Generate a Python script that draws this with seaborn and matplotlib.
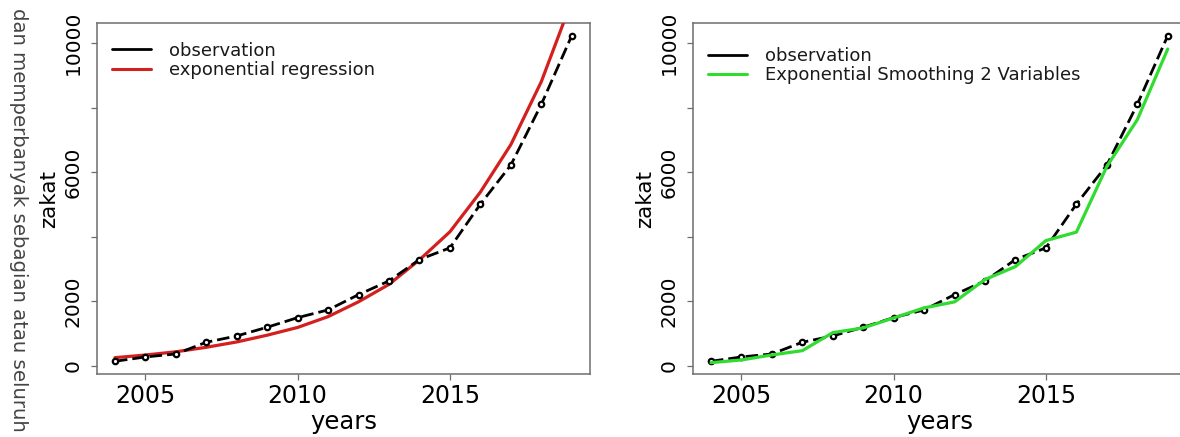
import matplotlib
matplotlib.use("Agg")
import matplotlib.pyplot as plt
from matplotlib.lines import Line2D
import seaborn as sns
import pandas as pd

# ---- data ----
years = [2004, 2005, 2006, 2007, 2008, 2009, 2010, 2011,
         2012, 2013, 2014, 2015, 2016, 2017, 2018, 2019]
observation = [136, 270, 363, 726, 921, 1191, 1489, 1728,
               2202, 2627, 3290, 3651, 5006, 6216, 8096, 10226]
exp_regression = [248, 330, 430, 570, 735, 945, 1185, 1520,
                  1980, 2520, 3280, 4150, 5380, 6850, 8800, 11300]
exp_smoothing = [93, 177, 332, 465, 1024, 1170, 1480, 1791,
                 1977, 2671, 3071, 3877, 4138, 6173, 7621, 9813]
xticks = [2005, 2010, 2015]
yticks = [0, 2000, 4000, 6000, 8000, 10000]
ytick_labels = ["0", "2000", "", "6000", "", "10000"]

sns.set_theme(style="white")
plt.rcParams["font.family"] = ["DejaVu Sans"]

W, H = 1180, 437
fig = plt.figure(figsize=(W / 100, H / 100), dpi=100)
fig.patch.set_facecolor("white")

ax_w = 493.3 / W
ax_b = (H - 374.3) / H
ax_h = 351.6 / H
ax1 = fig.add_axes([96.7 / W, ax_b, ax_w, ax_h])
ax2 = fig.add_axes([692.7 / W, ax_b, ax_w, ax_h])

df = pd.DataFrame({"years": years, "observation": observation,
                   "regression": exp_regression, "smoothing": exp_smoothing})

RED = "#d41f1f"
GREEN = "#30dc30"
SPINE = "#6e6e6e"


def draw_obs(ax):
    sns.lineplot(data=df, x="years", y="observation", ax=ax, color="black",
                 linewidth=2.0, marker="o", markersize=3.9,
                 markerfacecolor="white", markeredgecolor="black",
                 markeredgewidth=1.6, zorder=4)
    ax.lines[-1].set_linestyle((0, (4.5, 1.8)))


def style(ax, fit_color, fit_label, leg_xy):
    lo, hi = min(observation), max(observation)
    r = hi - lo
    ax.set_ylim(lo - 0.04 * r, hi + 0.04 * r)
    xr = years[-1] - years[0]
    ax.set_xlim(years[0] - 0.04 * xr, years[-1] + 0.04 * xr)
    ax.set_xticks(xticks)
    ax.set_xticklabels([str(t) for t in xticks], fontsize=17, color="black")
    ax.set_yticks(yticks)
    ax.set_yticklabels(ytick_labels, rotation=90, va="center",
                       fontsize=14.5, color="black")
    ax.tick_params(axis="both", direction="out", length=4.3, width=0.9,
                   color=SPINE, bottom=True, left=True)
    ax.tick_params(axis="x", pad=3)
    ax.tick_params(axis="y", pad=6)
    for s in ax.spines.values():
        s.set_visible(True)
        s.set_color(SPINE)
        s.set_linewidth(1.1)
    ax.set_xlabel("years", fontsize=17.5, color="black", labelpad=1)
    ax.set_ylabel("zakat", fontsize=15.5, color="black", labelpad=3)
    ax.grid(False)
    handles = [Line2D([], [], color="black", lw=2.0),
               Line2D([], [], color=fit_color, lw=2.2)]
    ax.legend(handles, ["observation", fit_label], loc="upper left",
              bbox_to_anchor=(leg_xy[0] / W, 1 - leg_xy[1] / H),
              bbox_transform=fig.transFigure, frameon=False,
              fontsize=13, handlelength=2.2, handletextpad=1.0,
              labelspacing=0.08, borderpad=0, borderaxespad=0)
    for t in ax.get_legend().get_texts():
        t.set_color("#1a1a1a")


# left panel
sns.lineplot(data=df, x="years", y="regression", ax=ax1, color=RED,
             linewidth=2.3, zorder=3)
draw_obs(ax1)
style(ax1, RED, "exponential regression", (111.7, 41.5))

# right panel
sns.lineplot(data=df, x="years", y="smoothing", ax=ax2, color=GREEN,
             linewidth=2.3, zorder=5)
draw_obs(ax2)
ax2.lines[0].set_zorder(5)
style(ax2, GREEN, "Exponential Smoothing 2 Variables", (707.7, 47))

# page text visible at the left edge of the screenshot
fig.text(18 / W, 1 - 8 / H, "dan memperbanyak sebagian atau seluruh",
         rotation=-90, ha="center", va="top", fontsize=14.2, color="#444444")

fig.savefig("out.png", dpi=100, facecolor="white")
